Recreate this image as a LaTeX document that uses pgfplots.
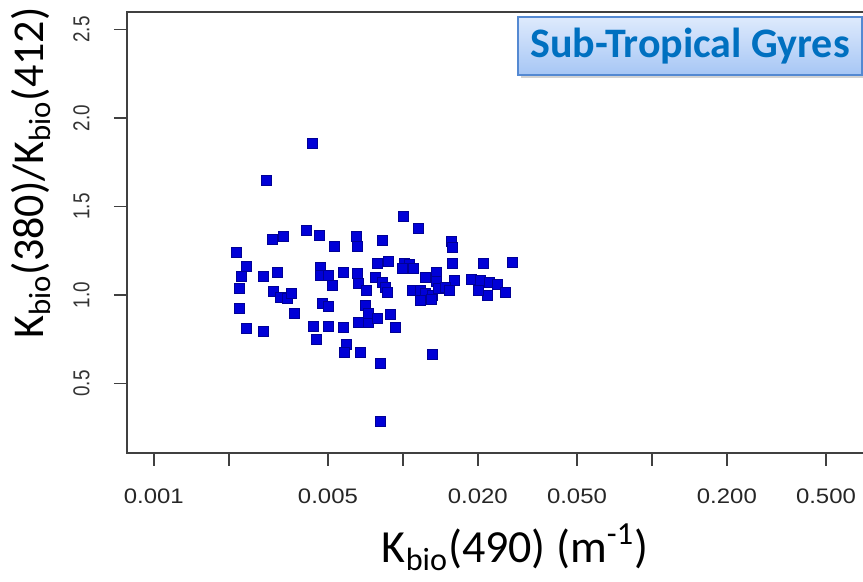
\documentclass[border=0pt]{standalone}
\usepackage{pgfplots}
\pgfplotsset{compat=1.18}
\usepackage{pgfplotstable}
\usepackage{fontspec}
\setmainfont{Carlito}
\newfontfamily\xtickfont[FakeStretch=1.14]{Liberation Sans}
\newfontfamily\ytickfont[FakeStretch=0.82]{Liberation Sans}
\usetikzlibrary{shadows}
\definecolor{markblue}{RGB}{0,0,215}
\definecolor{markedge}{RGB}{0,0,150}
\definecolor{axisgray}{RGB}{64,64,64}
\definecolor{titleblue}{RGB}{0,112,192}
\definecolor{boxtop}{RGB}{222,234,252}
\definecolor{boxbot}{RGB}{166,198,245}
\definecolor{boxedge}{RGB}{84,137,210}

\pgfplotstableread{
x y
0.00215 1.243
0.00234 1.164
0.00224 1.107
0.00220 1.040
0.00220 0.927
0.00234 0.814
0.00274 1.107
0.00274 0.797
0.00284 1.650
0.00298 1.316
0.00312 1.130
0.00303 1.023
0.00321 0.989
0.00342 0.983
0.00358 1.011
0.00330 1.333
0.00365 0.898
0.00408 1.367
0.00431 1.859
0.00460 1.339
0.00528 1.277
0.00464 1.158
0.00464 1.113
0.00500 1.113
0.00523 1.056
0.00473 0.955
0.00500 0.938
0.00435 0.825
0.00500 0.825
0.00447 0.751
0.00574 0.819
0.00590 0.723
0.00580 0.678
0.00672 0.678
0.00648 1.333
0.00654 1.277
0.00574 1.130
0.00654 1.124
0.00660 1.068
0.00710 1.028
0.00704 0.944
0.00660 0.847
0.00723 0.847
0.00786 1.181
0.00871 1.192
0.00824 1.311
0.00772 1.102
0.00824 1.073
0.00847 1.045
0.00863 1.017
0.00723 0.898
0.00786 0.870
0.00887 0.893
0.00929 0.819
0.00809 0.616
0.00809 0.288
0.01000 1.446
0.01149 1.379
0.01559 1.305
0.01573 1.271
0.01009 1.181
0.01057 1.175
0.00991 1.153
0.01097 1.153
0.01226 1.102
0.01357 1.130
0.01357 1.079
0.01573 1.181
0.02096 1.181
0.02740 1.186
0.01602 1.085
0.01876 1.090
0.02038 1.085
0.02216 1.073
0.02385 1.062
0.02568 1.017
0.02175 1.000
0.02001 1.028
0.01087 1.028
0.01170 1.028
0.01226 1.011
0.01308 1.000
0.01382 1.040
0.01475 1.045
0.01530 1.028
0.01170 0.972
0.01296 0.977
0.01308 0.667
}\datatable

\begin{document}
\begin{tikzpicture}
\begin{axis}[
  at={(63.5pt,64.5pt)}, anchor=south west, scale only axis,
  width=401.9pt, height=220.5pt,
  xmode=log, log basis x=10,
  xmin=0.000780, xmax=1.318, ymin=0.107, ymax=2.599,
  axis line style={axisgray, line width=0.8pt},
  tick style={axisgray, line width=0.8pt},
  tick align=outside, major tick length=6.5pt,
  xtick pos=left, ytick pos=left,
  xtick={0.001,0.002,0.005,0.01,0.02,0.05,0.1,0.2,0.5},
  xticklabels={0.001,,0.005,,0.020,0.050,,0.200,0.500},
  minor xtick={}, minor ytick={},
  ytick={0.5,1,1.5,2,2.5},
  yticklabels={0.5,1.0,1.5,2.0,2.5},
  xticklabel style={font=\xtickfont\fontsize{10.5}{12}\selectfont, text=black!85, inner sep=0pt, anchor=north},
  yticklabel style={font=\ytickfont\fontsize{11.5}{13}\selectfont, text=black!80, inner sep=0pt, rotate=90, anchor=south},
  xticklabel shift=11pt, yticklabel shift=12pt,
]
\addplot[only marks, mark=square*, mark size=2.5pt,
  mark options={fill=markblue, draw=markedge, line width=0.3pt}]
  table[x=x, y=y] {\datatable};
\end{axis}
\node[font=\fontsize{23}{27}\selectfont, anchor=base] at (257.5pt,9.5pt)
  {K\textsubscript{bio}(490) (m\textsuperscript{-1})};
\node[font=\fontsize{22}{26}\selectfont, rotate=90, anchor=base] at (21.5pt,204.5pt)
  {K\textsubscript{bio}(380)/K\textsubscript{bio}(412)};
\node[draw=boxedge, line width=0.8pt, top color=boxtop, bottom color=boxbot,
  drop shadow={shadow xshift=1.5pt, shadow yshift=-1.5pt, fill=black!35},
  minimum width=172pt, minimum height=29pt, inner sep=0pt,
  font=\bfseries\fontsize{21}{24}\selectfont, text=titleblue] at (345pt,268pt)
  {Sub-Tropical Gyres};
\pgfresetboundingbox
\useasboundingbox (0pt,0pt) rectangle (431.5pt,291pt);
\end{tikzpicture}
\end{document}
